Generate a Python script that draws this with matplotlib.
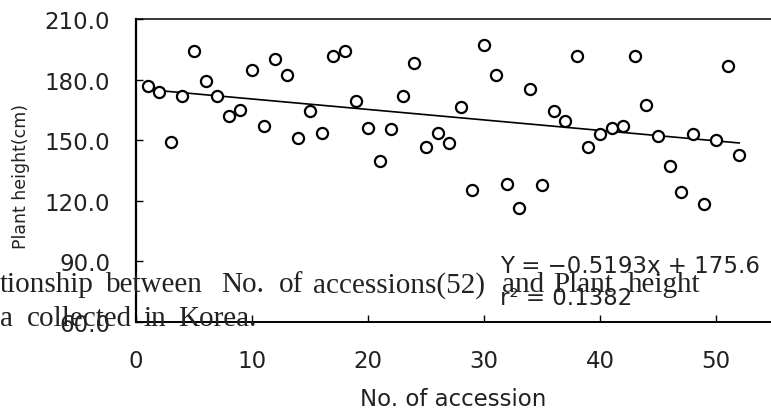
import matplotlib
matplotlib.use("Agg")
import matplotlib.pyplot as plt
import numpy as np

# Accession number and plant height (cm)
accession = list(range(1, 53))
plant_height = [
    177.0, 173.8, 149.3, 171.8, 194.4, 179.5, 171.8, 162.2, 164.9, 184.8,
    157.1, 190.1, 182.3, 151.0, 164.2, 153.6, 191.9, 194.4, 169.3, 156.2,
    139.8, 155.4, 171.8, 188.4, 146.7, 153.6, 148.5, 166.6, 125.1, 197.2,
    182.3, 128.5, 116.3, 175.2, 127.7, 164.2, 159.7, 191.9, 146.7, 152.8,
    156.2, 157.1, 191.9, 167.5, 152.0, 137.3, 124.3, 152.8, 118.1, 150.3,
    186.6, 142.4,
]

# Linear trend line
slope = -0.5193
intercept = 175.6
r_squared = 0.1382

y_ticks = [60, 90, 120, 150, 180, 210]
x_ticks = [0, 10, 20, 30, 40, 50]

W, H = 771, 414
fig = plt.figure(figsize=(W / 100, H / 100), dpi=100)
fig.patch.set_facecolor("white")

ax_left, ax_right_px = 136, 136 + 60 * 11.6
ax_top, ax_bottom = 20.1, 322.7
ax = fig.add_axes([ax_left / W, 1 - ax_bottom / H,
                   (ax_right_px - ax_left) / W, (ax_bottom - ax_top) / H])

ax.plot(accession, plant_height, "o", ms=8, mfc="white", mec="black",
        mew=1.6, zorder=3, clip_on=False)

trend_x = np.array([accession[0], accession[-1]])
ax.plot(trend_x, slope * trend_x + intercept, color="black", lw=1.2, zorder=2)

ax.set_xlim(0, 60)
ax.set_ylim(60, 210)
ax.set_xticks(x_ticks)
ax.set_yticks(y_ticks)
ax.set_yticklabels([f"{v:.1f}" for v in y_ticks])

ax.tick_params(axis="both", direction="in", length=5, width=1.0,
               labelsize=16.5, colors="black")
ax.tick_params(axis="y", pad=18.5)
ax.tick_params(axis="x", pad=20)
for lab in ax.get_xticklabels() + ax.get_yticklabels():
    lab.set_fontfamily("DejaVu Sans")
    lab.set_color("#222222")

ax.spines["right"].set_visible(False)
ax.spines["left"].set_linewidth(1.6)
ax.spines["bottom"].set_linewidth(1.4)
ax.spines["top"].set_linewidth(1.1)

# Axis titles
fig.text(21 / W, 1 - 176.5 / H, "Plant height(cm)", rotation=90,
         ha="center", va="center", fontsize=12.5, family="DejaVu Sans",
         color="#222222")
fig.text(453 / W, 1 - 406 / H, "No. of accession", ha="center",
         va="baseline", fontsize=16.5, family="DejaVu Sans", color="#222222")

# Regression equation
fig.text(500 / W, 1 - 273 / H, f"Y = \u2212{abs(slope):.4f}x + {intercept:.1f}",
         ha="left", va="baseline", fontsize=16.5, family="DejaVu Sans",
         color="#222222")
fig.text(500 / W, 1 - 305 / H, f"r\u00b2 = {r_squared:.4f}",
         ha="left", va="baseline", fontsize=16.5, family="DejaVu Sans",
         color="#222222")

# Caption lines (justified words)
caption_font = dict(family="Liberation Serif", fontsize=21, color="#222222",
                    ha="left", va="baseline")
line1 = [("tionship", 0), ("between", 106), ("No.", 221), ("of", 279),
         ("accessions(52)", 313), ("and", 502), ("Plant", 553), ("height", 628)]
line2 = [("a", 0), ("collected", 27), ("in", 143), ("Korea.", 178)]
for word, px in line1:
    fig.text(px / W, 1 - 292.5 / H, word, **caption_font)
for word, px in line2:
    fig.text(px / W, 1 - 326 / H, word, **caption_font)

fig.savefig("out.png", dpi=100)
